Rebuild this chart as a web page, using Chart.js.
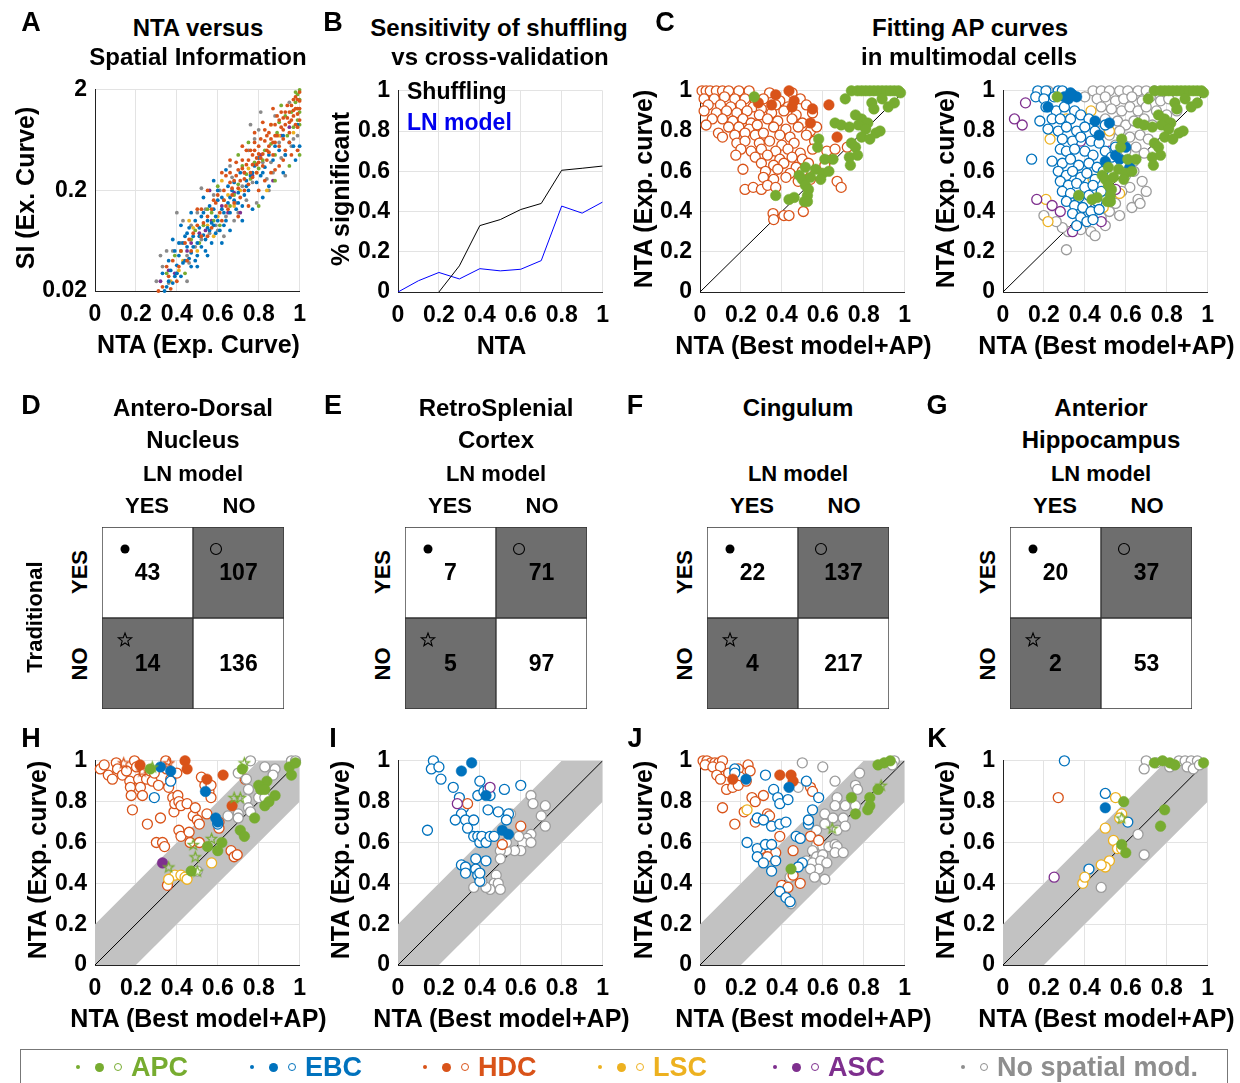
<!DOCTYPE html>
<html>
<head>
<meta charset="utf-8">
<script src="https://cdn.jsdelivr.net/npm/chart.js@4.4.1/dist/chart.umd.min.js"></script>
<style>
  body { margin: 0; width: 1240px; height: 1083px; position: relative; overflow: hidden; background: #fff;
         font-family: "Liberation Sans", Arial, Helvetica, sans-serif; font-weight: bold; color: #000; }
  canvas { position: absolute; }
  .t { position: absolute; white-space: nowrap; line-height: 1; }
  #legend { position: absolute; left: 20px; top: 1049px; width: 1206px; height: 40px; border: 1px solid #777; }
  .sym { position: absolute; border-radius: 50%; box-sizing: border-box; }
</style>
</head>
<body>
<div id="legend"></div>
<script>
// ---- Axis ticks ----
const NTA_TICKS = [0, 0.2, 0.4, 0.6, 0.8, 1];
const NTA_LABELS = ['0', '0.2', '0.4', '0.6', '0.8', '1'];
const SI_TICKS = [0.02, 0.2, 2];
const SI_LABELS = ['0.02', '0.2', '2'];

// ---- A: NTA vs spatial information (all cells) ----
const aHdc = [[0.33,0.022],[0.36,0.028],[0.38,0.04],[0.41,0.035],[0.44,0.06],[0.47,0.05],[0.5,0.09],[0.52,0.07],[0.55,0.11],[0.57,0.085],[0.59,0.15],[0.61,0.12],[0.63,0.2],[0.64,0.14],[0.66,0.24],[0.67,0.18],[0.69,0.28],[0.7,0.21],[0.72,0.33],[0.73,0.26],[0.75,0.4],[0.76,0.3],[0.77,0.45],[0.79,0.36],[0.8,0.55],[0.81,0.42],[0.83,0.62],[0.84,0.5],[0.85,0.75],[0.87,0.6],[0.88,0.9],[0.89,0.7],[0.9,1.0],[0.92,0.8],[0.93,1.2],[0.95,0.95],[0.96,1.4],[0.97,1.1],[0.98,1.7],[0.99,1.3],[1.0,1.55],[0.94,1.05],[0.86,0.65],[0.78,0.5],[0.82,0.46],[0.91,0.85],[0.74,0.36],[0.68,0.25],[0.97,1.25],[0.99,1.6],
    [0.6,0.18],[0.62,0.1],[0.65,0.13],[0.66,0.3],[0.68,0.15],[0.7,0.32],[0.71,0.17],[0.72,0.4],[0.73,0.2],[0.75,0.23],[0.76,0.5],[0.77,0.27],[0.78,0.6],[0.79,0.3],[0.8,0.38],[0.81,0.65],[0.82,0.35],[0.83,0.8],[0.84,0.4],[0.85,0.55],[0.86,0.9],[0.87,0.45],[0.88,0.7],[0.89,1.1],[0.9,0.55],[0.91,1.2],[0.92,0.65],[0.93,0.9],[0.94,1.4],[0.95,0.75],[0.96,1.0],[0.97,1.6],[0.98,0.9],[0.99,1.15],[1.0,1.9],[1.0,1.0],[0.55,0.07],[0.58,0.16],[0.48,0.075],[0.45,0.04],[0.42,0.05],[0.4,0.025],[0.35,0.035],[0.52,0.13],[0.64,0.28],[0.74,0.5],[0.69,0.38],
    [0.31,0.02],[0.37,0.021],[0.46,0.065],[0.53,0.095],[0.57,0.13],[0.63,0.16],[0.67,0.21],[0.71,0.25],[0.77,0.36],[0.8,0.46],[0.84,0.7],[0.88,0.6],[0.92,1.05],[0.95,1.2],[0.98,1.3],[1.0,1.3],[0.99,0.85],[0.85,0.48],[0.79,0.42],[0.73,0.3],
    [0.7,0.11],[0.75,0.14],[0.8,0.2],[0.83,0.25],[0.86,0.3],[0.9,0.35],[0.93,0.5],[0.96,0.45],[0.99,0.5],[0.62,0.3],[0.66,0.4],[0.72,0.55],[0.78,0.75],[0.82,0.95],[0.87,1.3],[0.55,0.2],[0.5,0.13],[0.88,0.32],[0.92,0.4],[0.95,0.6]];
const aEbc = [[0.34,0.02],[0.37,0.032],[0.39,0.028],[0.41,0.045],[0.43,0.038],[0.45,0.055],[0.46,0.042],[0.48,0.07],[0.5,0.06],[0.51,0.085],[0.53,0.072],[0.55,0.1],[0.56,0.08],[0.58,0.13],[0.6,0.1],[0.62,0.17],[0.63,0.12],[0.65,0.15],[0.67,0.2],[0.68,0.16],[0.7,0.19],[0.72,0.14],[0.74,0.25],[0.76,0.28],[0.78,0.35],[0.82,0.3],[0.85,0.45],[0.88,0.55],[0.92,0.7],[0.95,0.6],[0.99,0.9],[0.44,0.07],[0.52,0.11],[0.6,0.16],[0.4,0.03],[0.36,0.025],[0.47,0.048],[0.57,0.095],
    [0.33,0.03],[0.35,0.022],[0.36,0.04],[0.38,0.024],[0.39,0.05],[0.4,0.036],[0.42,0.028],[0.43,0.06],[0.44,0.04],[0.45,0.075],[0.47,0.035],[0.48,0.055],[0.49,0.1],[0.5,0.045],[0.51,0.07],[0.52,0.055],[0.53,0.12],[0.54,0.065],[0.55,0.085],[0.56,0.14],[0.57,0.06],[0.58,0.09],[0.59,0.11],[0.6,0.2],[0.61,0.08],[0.62,0.13],[0.64,0.1],[0.65,0.22],[0.66,0.12],[0.68,0.24],[0.69,0.13],[0.71,0.3],[0.73,0.18],[0.75,0.2],[0.77,0.3],[0.79,0.24],[0.8,0.42],[0.83,0.34],[0.87,0.4],[0.9,0.5],[0.97,0.55],
    [0.41,0.06],[0.46,0.085],[0.49,0.04],[0.54,0.05],[0.59,0.075],[0.63,0.09],[0.66,0.17],[0.7,0.15],[0.74,0.22],[0.81,0.28],[0.93,0.45],[1.0,0.55],
    [0.62,0.06],[0.66,0.08],[0.72,0.1],[0.77,0.13],[0.82,0.17],[0.85,0.22],[0.92,0.3],[0.98,0.4],[0.42,0.09],[0.47,0.12],[0.53,0.17],[0.58,0.25],[0.64,0.32],[0.38,0.065],[0.55,0.045],[0.5,0.035]];
const aApc = [[0.35,0.03],[0.42,0.05],[0.47,0.065],[0.53,0.09],[0.58,0.1],[0.63,0.16],[0.66,0.14],[0.7,0.23],[0.74,0.29],[0.78,0.38],[0.8,0.33],[0.83,0.5],[0.86,0.58],[0.9,0.95],[0.93,1.1],[0.96,1.2],[0.98,1.5],[0.99,1.8],[1.0,2.0],[1.0,1.2],[0.99,1.0],[0.97,0.85],[0.88,0.45],[0.57,0.12],[0.49,0.08],
    [0.39,0.045],[0.44,0.03],[0.51,0.06],[0.55,0.13],[0.61,0.09],[0.68,0.18],[0.72,0.35],[0.76,0.26],[0.82,0.4],[0.89,0.75],[0.94,0.7],[1.0,1.6],[1.0,0.9],[0.98,1.9],[0.91,1.4],
    [0.8,0.14],[0.88,0.25],[0.95,0.35],[1.0,0.45],[0.6,0.22],[0.7,0.45],[0.75,0.6]];
const aNone = [[0.3,0.025],[0.33,0.035],[0.36,0.024],[0.38,0.05],[0.4,0.03],[0.42,0.06],[0.45,0.045],[0.47,0.09],[0.49,0.055],[0.52,0.065],[0.54,0.13],[0.56,0.075],[0.59,0.09],[0.61,0.2],[0.64,0.11],[0.67,0.27],[0.69,0.15],[0.72,0.22],[0.75,0.5],[0.77,0.24],[0.8,0.8],[0.82,0.38],[0.84,0.26],[0.87,0.3],[0.9,0.6],[0.93,0.45],[0.95,1.5],[0.97,0.65],[0.88,1.1],[0.6,0.08],
    [0.32,0.045],[0.35,0.05],[0.43,0.1],[0.46,0.038],[0.5,0.12],[0.58,0.18],[0.63,0.07],[0.7,0.12],[0.74,0.16],[0.78,0.65],[0.86,0.38],[0.91,0.42],[0.96,0.55],[0.99,0.7],[0.66,0.35],
    [0.81,1.2],[0.76,0.9],[0.68,0.1],[0.79,0.15],[0.85,0.2],[0.4,0.12],[0.52,0.21],[0.93,0.28],[0.45,0.025]];
const aLsc = [[0.37,0.025],[0.43,0.04],[0.5,0.05],[0.55,0.09],[0.6,0.11],[0.65,0.18],[0.71,0.2],[0.79,0.3],[0.86,0.9],[0.97,0.75],[0.41,0.032],[0.48,0.085],[0.58,0.07],[0.68,0.14],[0.75,0.33],[0.9,0.7],[0.84,0.2],[0.62,0.25],[0.46,0.1]];
const aAsc = [[0.32,0.025],[0.39,0.03],[0.45,0.05],[0.51,0.075],[0.57,0.1],[0.62,0.14],[0.68,0.19],[0.73,0.3],[0.81,0.45],[0.91,0.7],[0.36,0.032],[0.47,0.06],[0.54,0.08],[0.65,0.12],[0.77,0.28],[0.95,0.85],[0.87,0.25],[0.56,0.2],[0.71,0.12]];

// ---- B: sensitivity ----
const nta_bins = [0, 0.1, 0.2, 0.3, 0.4, 0.5, 0.6, 0.7, 0.8, 0.9, 1];
const shuffling = [null, null, 0, 0.13, 0.33, 0.36, 0.41, 0.44, 0.605, 0.615, 0.626];
const lnModel = [0, 0.056, 0.097, 0.065, 0.116, 0.105, 0.113, 0.156, 0.427, 0.392, 0.447];

// ---- C: multimodal cells ----
const cApc = [[0.265,0.97],[0.74,1],[0.77,1],[0.79,1],[0.81,1],[0.83,1],[0.85,1],[0.87,1],[0.89,1],[0.91,1],[0.93,1],[0.95,1],[0.97,1],[0.98,0.99],[0.71,0.96],[0.84,0.94],[0.89,0.96],[0.92,0.92],[0.95,0.94],[0.85,0.91],[0.79,0.86],[0.82,0.84],[0.76,0.88],[0.66,0.84],[0.69,0.83],[0.73,0.82],[0.775,0.83],[0.81,0.81],[0.86,0.79],[0.88,0.8],[0.58,0.76],[0.79,0.77],[0.83,0.76],[0.74,0.74],[0.76,0.72],[0.575,0.72],[0.61,0.66],[0.65,0.66],[0.73,0.67],[0.735,0.63],[0.77,0.68],[0.515,0.62],[0.565,0.61],[0.6,0.59],[0.63,0.6],[0.485,0.58],[0.5,0.56],[0.515,0.53],[0.53,0.51],[0.525,0.48],[0.51,0.45],[0.525,0.45],[0.435,0.46],[0.46,0.47],[0.37,0.48],[0.59,0.56],[0.54,0.57]];
const cHdcOpen = [[0.01,1],[0.03,1],[0.05,1],[0.08,1],[0.11,1],[0.14,1],[0.19,1],[0.24,1],[0.34,0.99],[0.45,0.99],[0.02,0.96],[0.07,0.96],[0.12,0.97],[0.17,0.96],[0.22,0.96],[0.27,0.95],[0.31,0.96],[0.39,0.95],[0.49,0.96],[0.04,0.93],[0.1,0.93],[0.15,0.92],[0.2,0.93],[0.26,0.92],[0.3,0.91],[0.37,0.93],[0.43,0.92],[0.52,0.93],[0.02,0.9],[0.08,0.89],[0.13,0.9],[0.18,0.89],[0.23,0.9],[0.29,0.88],[0.35,0.89],[0.41,0.9],[0.47,0.88],[0.55,0.89],[0.06,0.86],[0.11,0.86],[0.16,0.85],[0.21,0.86],[0.25,0.84],[0.33,0.86],[0.38,0.85],[0.45,0.86],[0.5,0.84],[0.03,0.83],[0.14,0.82],[0.19,0.82],[0.24,0.81],[0.28,0.83],[0.36,0.82],[0.42,0.81],[0.48,0.82],[0.54,0.8],[0.57,0.82],[0.09,0.79],[0.17,0.78],[0.22,0.79],[0.27,0.78],[0.31,0.79],[0.39,0.78],[0.44,0.77],[0.52,0.78],[0.11,0.77],[0.18,0.74],[0.22,0.75],[0.29,0.74],[0.34,0.75],[0.4,0.73],[0.46,0.74],[0.56,0.75],[0.2,0.71],[0.25,0.7],[0.3,0.71],[0.37,0.7],[0.43,0.71],[0.49,0.69],[0.55,0.71],[0.62,0.7],[0.66,0.71],[0.72,0.72],[0.175,0.68],[0.27,0.67],[0.33,0.68],[0.39,0.66],[0.45,0.67],[0.5,0.66],[0.3,0.64],[0.36,0.63],[0.41,0.64],[0.47,0.62],[0.53,0.64],[0.61,0.63],[0.21,0.61],[0.32,0.6],[0.38,0.61],[0.44,0.59],[0.5,0.6],[0.56,0.58],[0.31,0.57],[0.36,0.56],[0.42,0.57],[0.48,0.55],[0.54,0.56],[0.67,0.55],[0.69,0.52],[0.22,0.51],[0.26,0.52],[0.3,0.51],[0.33,0.53],[0.37,0.52],[0.505,0.4],[0.357,0.39],[0.36,0.36],[0.41,0.38],[0.435,0.38]];
const cHdcFill = [[0.37,0.98],[0.435,1.0],[0.35,0.93],[0.45,0.92],[0.55,0.91],[0.63,0.93],[0.67,0.77],[0.285,0.94],[0.46,0.95],[0.54,0.84]];
const cEbcOpen = [[0.17,1.0],[0.21,1.0],[0.27,1.0],[0.29,1.0],[0.16,0.97],[0.2,0.96],[0.25,0.97],[0.21,0.92],[0.26,0.9],[0.3,0.92],[0.35,0.9],[0.24,0.86],[0.18,0.85],[0.28,0.86],[0.33,0.86],[0.38,0.88],[0.42,0.86],[0.22,0.81],[0.27,0.8],[0.31,0.82],[0.36,0.8],[0.4,0.82],[0.45,0.8],[0.5,0.83],[0.29,0.76],[0.34,0.75],[0.38,0.77],[0.43,0.75],[0.47,0.74],[0.55,0.72],[0.28,0.71],[0.31,0.7],[0.35,0.71],[0.4,0.7],[0.44,0.68],[0.5,0.7],[0.53,0.67],[0.14,0.66],[0.24,0.65],[0.29,0.64],[0.33,0.66],[0.37,0.63],[0.42,0.64],[0.46,0.62],[0.49,0.6],[0.27,0.6],[0.31,0.58],[0.34,0.6],[0.38,0.57],[0.41,0.59],[0.45,0.56],[0.28,0.55],[0.32,0.53],[0.36,0.54],[0.4,0.52],[0.44,0.53],[0.48,0.5],[0.29,0.5],[0.33,0.49],[0.37,0.47],[0.42,0.48],[0.46,0.45],[0.31,0.45],[0.35,0.43],[0.39,0.42],[0.43,0.4],[0.47,0.41],[0.34,0.39],[0.38,0.37],[0.41,0.35],[0.36,0.33],[0.44,0.36]];
const cEbcFill = [[0.3,0.97],[0.32,0.96],[0.34,0.98],[0.36,0.97],[0.33,0.99],[0.22,0.92],[0.45,0.85],[0.52,0.84],[0.47,0.78],[0.6,0.72],[0.5,0.65],[0.55,0.68],[0.62,0.62],[0.57,0.66]];
const cNoneOpen = [[0.22,1.0],[0.44,1],[0.48,1],[0.52,1],[0.57,1],[0.61,1],[0.66,1],[0.7,1],[0.74,1],[0.4,0.97],[0.46,0.96],[0.5,0.97],[0.55,0.95],[0.59,0.96],[0.63,0.97],[0.68,0.95],[0.72,0.97],[0.77,0.95],[0.81,0.96],[0.48,0.92],[0.53,0.91],[0.58,0.9],[0.62,0.92],[0.66,0.9],[0.7,0.92],[0.75,0.9],[0.8,0.88],[0.85,0.9],[0.5,0.86],[0.56,0.85],[0.6,0.83],[0.64,0.85],[0.69,0.86],[0.73,0.83],[0.47,0.8],[0.52,0.78],[0.57,0.8],[0.62,0.77],[0.67,0.78],[0.71,0.76],[0.55,0.73],[0.6,0.7],[0.65,0.72],[0.69,0.69],[0.64,0.65],[0.58,0.64],[0.6,0.58],[0.64,0.6],[0.68,0.55],[0.7,0.5],[0.62,0.52],[0.66,0.46],[0.58,0.5],[0.55,0.44],[0.63,0.42],[0.67,0.44],[0.52,0.4],[0.48,0.37],[0.43,0.3],[0.45,0.28],[0.38,0.31],[0.32,0.3],[0.29,0.32],[0.26,0.35],[0.2,0.38],[0.31,0.21],[0.57,0.38],[0.5,0.33]];
const cLscOpen = [[0.23,0.76],[0.21,0.46],[0.22,0.35],[0.31,0.86],[0.43,0.9],[0.57,0.49],[0.49,0.42],[0.35,0.4],[0.52,0.8],[0.44,0.56]];
const cAscOpen = [[0.11,0.94],[0.056,0.86],[0.094,0.83],[0.165,0.46],[0.24,0.43],[0.28,0.4],[0.34,0.3],[0.48,0.35],[0.55,0.51],[0.38,0.75],[0.52,0.7]];

// ---- D-G: traditional vs LN model counts [yes/yes, yes/no, no/yes, no/no] ----
const LN_COLS = ['YES', 'NO'];
const TRAD_ROWS = ['YES', 'NO'];
const adnCounts = [43, 107, 14, 136];
const rscCounts = [7, 71, 5, 97];
const cinCounts = [22, 137, 4, 217];
const ahcCounts = [20, 37, 2, 53];

// ---- H: ADN ----
const hHdcOpen = [[0.026,0.96],[0.045,0.98],[0.065,0.93],[0.085,0.91],[0.104,0.99],[0.11,0.96],[0.134,0.93],[0.154,0.95],[0.17,0.9],[0.173,0.87],[0.177,0.83],[0.183,0.76],[0.193,1.0],[0.203,0.97],[0.213,0.91],[0.222,0.87],[0.232,0.83],[0.242,0.94],[0.252,0.91],[0.256,0.69],[0.27,0.95],[0.28,0.9],[0.29,0.94],[0.3,0.6],[0.31,0.88],[0.32,0.72],[0.33,0.6],[0.34,0.58],[0.346,1.0],[0.35,0.96],[0.36,0.87],[0.37,0.91],[0.38,0.82],[0.386,0.75],[0.39,0.79],[0.4,0.94],[0.405,0.83],[0.41,0.8],[0.42,0.78],[0.41,0.66],[0.42,0.63],[0.45,0.79],[0.46,0.65],[0.465,0.6],[0.48,0.73],[0.49,0.77],[0.5,0.71],[0.51,0.69],[0.51,0.6],[0.52,0.92],[0.537,0.88],[0.547,0.74],[0.557,0.85],[0.567,0.88],[0.567,0.82],[0.606,0.7],[0.606,0.67],[0.665,0.56],[0.68,0.53],[0.695,0.54],[0.734,0.91],[0.354,0.39]];
const hHdcFill = [[0.22,0.98],[0.44,1.0],[0.45,0.96],[0.547,0.91],[0.626,0.93],[0.67,0.78]];
const hHdcStar = [[0.14,0.99],[0.36,0.99],[0.23,0.95]];
const hEbcOpen = [[0.29,0.82],[0.37,0.9],[0.6,0.69]];
const hEbcFill = [[0.32,0.97],[0.37,0.95],[0.54,0.85],[0.59,0.72],[0.6,0.7]];
const hAscFill = [[0.33,0.5]];
const hApcFill = [[0.27,0.96],[0.72,0.96],[0.84,0.9],[0.8,0.88],[0.81,0.86],[0.83,0.86],[0.88,0.83],[0.78,0.72],[0.83,0.78],[0.85,0.8],[0.71,0.66],[0.73,0.63],[0.62,0.6],[0.6,0.56],[0.47,0.46],[0.95,0.97],[0.96,0.93],[0.98,0.99],[0.55,0.58]];
const hApcStar = [[0.73,0.99],[0.28,0.97],[0.71,0.82],[0.68,0.82],[0.57,0.62],[0.48,0.59],[0.49,0.53],[0.36,0.48],[0.5,0.46]];
const hNoneOpen = [[0.76,1.0],[0.7,0.94],[0.74,0.91],[0.83,0.97],[0.88,0.96],[0.96,1.0],[0.98,1.0],[0.8,0.82],[0.75,0.86],[0.74,0.81],[0.7,0.74],[0.7,0.72],[0.75,0.77],[0.76,0.75],[0.83,0.82],[0.87,0.93],[0.5,0.46],[0.65,0.73]];
const hLscOpen = [[0.39,0.44],[0.42,0.44],[0.44,0.43],[0.45,0.42],[0.57,0.5],[0.36,0.42]];

// ---- I: RSC ----
const iEbcOpen = [[0.173,1.0],[0.163,0.96],[0.2,0.97],[0.21,0.91],[0.144,0.66],[0.27,0.87],[0.3,0.82],[0.32,0.77],[0.31,0.74],[0.28,0.71],[0.33,0.71],[0.34,0.67],[0.37,0.71],[0.37,0.63],[0.39,0.63],[0.4,0.6],[0.41,0.63],[0.43,0.6],[0.45,0.63],[0.47,0.63],[0.4,0.9],[0.39,0.83],[0.42,0.85],[0.44,0.76],[0.44,0.86],[0.45,0.83],[0.49,0.75],[0.52,0.86],[0.54,0.74],[0.53,0.71],[0.6,0.88],[0.31,0.49],[0.33,0.48],[0.33,0.45],[0.38,0.52],[0.38,0.47],[0.39,0.44],[0.4,0.41],[0.43,0.51],[0.4,0.45]];
const iEbcFill = [[0.31,0.95],[0.36,0.99],[0.43,0.83],[0.51,0.66],[0.54,0.64]];
const iNoneOpen = [[0.65,0.83],[0.66,0.79],[0.72,0.78],[0.7,0.73],[0.72,0.68],[0.65,0.64],[0.63,0.62],[0.61,0.6],[0.65,0.6],[0.6,0.56],[0.57,0.56],[0.53,0.56],[0.5,0.56],[0.5,0.52],[0.53,0.6],[0.55,0.74],[0.59,0.63],[0.48,0.44],[0.47,0.4],[0.49,0.4],[0.5,0.37],[0.45,0.37],[0.43,0.38],[0.37,0.38],[0.41,0.41]];
const iHdcOpen = [[0.34,0.79],[0.51,0.59],[0.6,0.68]];
const iAscOpen = [[0.29,0.79],[0.45,0.87]];

// ---- J: cingulum ----
const jHdcOpen = [[0.015,1.0],[0.034,1.0],[0.054,0.99],[0.073,0.99],[0.092,0.99],[0.11,1.0],[0.025,0.98],[0.063,0.97],[0.1,0.97],[0.082,0.93],[0.1,0.91],[0.14,0.94],[0.13,0.86],[0.16,0.87],[0.187,0.96],[0.197,0.92],[0.187,0.88],[0.235,0.98],[0.245,0.95],[0.226,0.9],[0.254,0.82],[0.27,0.8],[0.31,0.83],[0.11,0.77],[0.17,0.69],[0.216,0.75],[0.27,0.7],[0.33,0.74],[0.34,0.73],[0.39,0.63],[0.3,0.57],[0.34,0.57],[0.37,0.55],[0.33,0.53],[0.455,0.56],[0.54,0.63],[0.58,0.61],[0.54,0.87],[0.55,0.85],[0.4,0.39],[0.43,0.38],[0.49,0.4],[0.455,0.44]];
const jHdcFill = [[0.16,0.91],[0.39,0.93],[0.445,0.93],[0.455,0.9]];
const jEbcOpen = [[0.17,0.96],[0.17,0.94],[0.32,0.93],[0.36,0.86],[0.38,0.82],[0.39,0.79],[0.43,0.81],[0.28,0.72],[0.31,0.71],[0.35,0.68],[0.39,0.69],[0.42,0.7],[0.23,0.6],[0.28,0.57],[0.32,0.59],[0.35,0.59],[0.28,0.53],[0.31,0.5],[0.35,0.46],[0.37,0.51],[0.47,0.63],[0.49,0.62],[0.52,0.9],[0.55,0.76],[0.58,0.82],[0.5,0.5],[0.39,0.36],[0.42,0.33],[0.44,0.31],[0.48,0.48],[0.53,0.69],[0.53,0.71]];
const jEbcFill = [[0.225,0.91],[0.435,0.87]];
const jNoneOpen = [[0.5,0.99],[0.6,0.97],[0.66,0.9],[0.48,0.87],[0.78,0.94],[0.76,0.88],[0.77,0.86],[0.67,0.82],[0.66,0.78],[0.71,0.78],[0.76,0.78],[0.61,0.74],[0.65,0.72],[0.7,0.72],[0.61,0.69],[0.67,0.66],[0.71,0.68],[0.57,0.66],[0.57,0.59],[0.6,0.58],[0.63,0.58],[0.66,0.59],[0.67,0.58],[0.55,0.56],[0.57,0.53],[0.6,0.54],[0.66,0.55],[0.52,0.51],[0.55,0.5],[0.59,0.51],[0.62,0.5],[0.58,0.47],[0.54,0.47],[0.56,0.43],[0.61,0.42],[0.44,0.43],[0.445,0.3],[0.7,0.55],[0.95,1.0],[0.94,0.98]];
const jApcFill = [[0.87,0.98],[0.9,0.99],[0.93,1.0],[0.87,0.86],[0.74,0.82],[0.83,0.82],[0.83,0.78],[0.82,0.76],[0.76,0.74],[0.445,0.47]];
const jApcStar = [[0.885,0.88],[0.646,0.67]];
const jLscOpen = [[0.23,0.76]];

// ---- K: anterior hippocampus ----
const kEbcOpen = [[0.3,1.0],[0.5,0.84],[0.61,0.7],[0.42,0.47]];
const kEbcFill = [[0.5,0.77]];
const kHdcOpen = [[0.27,0.82]];
const kAscOpen = [[0.25,0.43]];
const kLscOpen = [[0.55,0.82],[0.58,0.74],[0.57,0.72],[0.5,0.67],[0.54,0.61],[0.56,0.57],[0.58,0.57],[0.52,0.51],[0.5,0.48],[0.48,0.49],[0.39,0.4],[0.4,0.43]];
const kApcFill = [[0.59,0.8],[0.6,0.55],[0.58,0.59],[0.79,0.76],[0.77,0.68],[0.74,0.99],[0.78,1.0],[0.815,0.99],[0.84,0.98],[0.98,0.99]];
const kApcStar = [[0.58,0.72]];
const kNoneOpen = [[0.7,1.0],[0.69,0.96],[0.75,0.99],[0.815,0.97],[0.86,1.0],[0.89,1.0],[0.92,1.0],[0.95,1.0],[0.9,0.97],[0.93,0.96],[0.96,0.98],[0.66,0.64],[0.69,0.54],[0.48,0.38]];

// ---- Style ----
const FONT = '"Liberation Sans", Arial, Helvetica, sans-serif';
const APC = '#77AC30', EBC = '#0072BD', HDC = '#D95319', LSC = '#EDB120', ASC = '#7E2F8E', NONE = '#9C9C9C';
const GRID = '#e3e3e3', AXIS = '#222', BAND = '#c2c2c2';
const CELL_AGREE = '#ffffff', CELL_DIFF = '#6e6e6e';
const TICK_SIZE = 23, LABEL_SIZE = 25, TITLE_SIZE = 24;
const BAND_MARGIN = 0.2;
const PW = 207, PAD_L = 95, PAD_T = 16, PAD_R = 14, PAD_B = 75;

Chart.defaults.font.family = FONT;
Chart.defaults.font.weight = 'bold';
Chart.defaults.color = '#000';

const xy = arr => arr.map(([x, y]) => ({ x, y }));

function starPath(g, cx, cy, r) {
    g.beginPath();
    for (let i = 0; i < 10; i++) {
        const rr = i % 2 ? r * 0.42 : r;
        const a = -Math.PI / 2 + i * Math.PI / 5;
        g.lineTo(cx + rr * Math.cos(a), cy + rr * Math.sin(a));
    }
    g.closePath();
}

function starImage(color, r) {
    const c = document.createElement('canvas');
    c.width = c.height = Math.ceil(r * 2 + 4);
    const g = c.getContext('2d');
    starPath(g, c.width / 2, c.height / 2 + 0.5, r);
    g.strokeStyle = color;
    g.lineWidth = 1.2;
    g.stroke();
    return c;
}

// series helpers
const tiny = (arr, color) => ({ data: xy(arr), pointRadius: 1.9, pointBackgroundColor: color, pointBorderWidth: 0, clip: false });
const filled = (arr, color) => ({ data: xy(arr), pointRadius: 5.3, pointBackgroundColor: color, pointBorderColor: color, pointBorderWidth: 0.5, clip: false });
const open = (arr, color) => ({ data: xy(arr), pointRadius: 5, pointBackgroundColor: '#fff', pointBorderColor: color, pointBorderWidth: 1.3, clip: false });
const star = (arr, color) => ({ data: xy(arr), pointStyle: starImage(color, 5.5), pointRadius: 6, clip: false });

function stacked(list) {
    // later entries drawn on top
    list.forEach((ds, i) => { ds.order = -i; });
    return list;
}

function refLines(withBand) {
    const out = [];
    if (withBand) {
        out.push({ data: xy([[0, BAND_MARGIN], [1 - BAND_MARGIN, 1], [1, 1]]), showLine: true, pointRadius: 0,
                   borderColor: 'rgba(0,0,0,0)', backgroundColor: BAND, fill: '+1', order: 1000 });
        out.push({ data: xy([[0, 0], [BAND_MARGIN, 0], [1, 1 - BAND_MARGIN]]), showLine: true, pointRadius: 0,
                   borderColor: 'rgba(0,0,0,0)', fill: false, order: 999 });
    }
    out.push({ data: xy([[0, 0], [1, 1]]), showLine: true, pointRadius: 0, borderColor: '#000', borderWidth: 1, order: 998 });
    return out;
}

function axisX() {
    return {
        type: 'linear', min: 0, max: 1,
        afterBuildTicks: s => { s.ticks = NTA_TICKS.map(v => ({ value: v })); },
        afterFit: s => { s.height = PAD_B; },
        grid: { color: GRID, drawTicks: false },
        border: { color: AXIS },
        ticks: { font: { size: TICK_SIZE }, padding: 10, maxRotation: 0, autoSkip: false, callback: (v, i) => NTA_LABELS[i] }
    };
}

function axisY(extra) {
    return Object.assign({
        type: 'linear', min: 0, max: 1,
        afterBuildTicks: s => { s.ticks = NTA_TICKS.map(v => ({ value: v })); },
        afterFit: s => { s.width = PAD_L; },
        grid: { color: GRID, drawTicks: false },
        border: { color: AXIS },
        ticks: { font: { size: TICK_SIZE }, padding: 8, autoSkip: false, callback: (v, i) => NTA_LABELS[i] }
    }, extra || {});
}

// scatter/line panel; axis titles are placed as page text beside the plot box
function panel(left, top, h, datasets, titles, yScale) {
    const cv = document.createElement('canvas');
    cv.width = PAD_L + PW + PAD_R;
    cv.height = PAD_T + h + PAD_B;
    cv.style.left = (left - PAD_L) + 'px';
    cv.style.top = (top - PAD_T) + 'px';
    document.body.appendChild(cv);
    txt(titles.x, left + PW / 2, top + h + 53, LABEL_SIZE);
    vtxt(titles.y, left - (titles.yDist || 58), top + h / 2, LABEL_SIZE);
    return new Chart(cv, {
        type: 'scatter',
        data: { datasets },
        options: {
            responsive: false, animation: false, events: [],
            layout: { padding: { left: 0, top: PAD_T, right: PAD_R, bottom: 0 } },
            plugins: { legend: { display: false }, tooltip: { enabled: false } },
            scales: { x: axisX(), y: yScale || axisY() }
        }
    });
}

// table cells: counts + marker glyphs
const CELL_MARKS = ['dot', 'circle', 'star', null];
const cellMarks = {
    id: 'cellMarks',
    afterDatasetsDraw(chart, args, opts) {
        const ctx = chart.ctx;
        ctx.save();
        chart.data.datasets.forEach((ds, row) => {
            chart.getDatasetMeta(row).data.forEach((bar, col) => {
                const k = row * LN_COLS.length + col;
                const left = bar.x - bar.width / 2;
                const top = Math.min(bar.y, bar.base);
                ctx.fillStyle = '#000';
                ctx.font = 'bold 23px ' + FONT;
                ctx.textAlign = 'center';
                ctx.textBaseline = 'middle';
                ctx.fillText(String(opts.counts[k]), bar.x, (bar.y + bar.base) / 2 + 1);
                const mx = left + 23, my = top + 22;
                ctx.lineWidth = 1.1;
                ctx.strokeStyle = '#000';
                if (CELL_MARKS[k] === 'dot') {
                    ctx.beginPath(); ctx.arc(mx, my, 4.5, 0, 2 * Math.PI); ctx.fill();
                } else if (CELL_MARKS[k] === 'circle') {
                    ctx.beginPath(); ctx.arc(mx, my, 5.5, 0, 2 * Math.PI); ctx.stroke();
                } else if (CELL_MARKS[k] === 'star') {
                    starPath(ctx, mx, my, 7); ctx.stroke();
                }
            });
        });
        ctx.restore();
    }
};

function table(left, top, counts) {
    const cv = document.createElement('canvas');
    cv.width = 182; cv.height = 182;
    cv.style.left = left + 'px'; cv.style.top = top + 'px';
    document.body.appendChild(cv);
    const rowSets = TRAD_ROWS.map((r, i) => ({
        label: r,
        data: LN_COLS.map(() => [TRAD_ROWS.length - 1 - i, TRAD_ROWS.length - i]),
        backgroundColor: LN_COLS.map((c, j) => (i === j ? CELL_AGREE : CELL_DIFF)),
        borderColor: '#333', borderWidth: 1, borderSkipped: false,
        grouped: false, barPercentage: 1, categoryPercentage: 1
    }));
    return new Chart(cv, {
        type: 'bar',
        data: { labels: LN_COLS, datasets: rowSets },
        options: {
            responsive: false, animation: false, events: [],
            layout: { padding: 0 },
            plugins: { legend: { display: false }, tooltip: { enabled: false }, cellMarks: { counts } },
            scales: { x: { display: false }, y: { display: false, min: 0, max: TRAD_ROWS.length } }
        },
        plugins: [cellMarks]
    });
}

// plain text labels
function txt(s, x, y, size, opt) {
    opt = opt || {};
    const d = document.createElement('div');
    d.className = 't';
    d.textContent = s;
    d.style.fontSize = size + 'px';
    d.style.left = x + 'px';
    d.style.top = y + 'px';
    if (opt.color) d.style.color = opt.color;
    d.style.transform = `translate(${opt.align === 'left' ? '0' : '-50%'}, -50%)`;
    document.body.appendChild(d);
    return d;
}
function vtxt(s, x, y, size) {
    const d = document.createElement('div');
    d.className = 't';
    d.textContent = s;
    d.style.fontSize = size + 'px';
    d.style.left = x + 'px';
    d.style.top = y + 'px';
    d.style.transform = 'translate(-50%, -50%) rotate(-90deg)';
    document.body.appendChild(d);
}

// ---------- Row 1 ----------
panel(95, 84, 207, stacked([
    tiny(aNone, '#8a8a8a'), tiny(aAsc, ASC), tiny(aLsc, LSC), tiny(aApc, APC), tiny(aEbc, EBC), tiny(aHdc, HDC)
]), { x: 'NTA (Exp. Curve)', y: 'SI (Ex. Curve)', yDist: 70 }, axisY({
    type: 'logarithmic', min: 0.02, max: 2,
    afterBuildTicks: s => { s.ticks = SI_TICKS.map(v => ({ value: v })); },
    ticks: { font: { size: TICK_SIZE }, padding: 8, autoSkip: false, callback: (v, i) => SI_LABELS[i] }
}));

panel(398, 85, 207, [
    { data: nta_bins.map((x, i) => ({ x, y: shuffling[i] })), showLine: true, pointRadius: 0, borderColor: '#000', borderWidth: 1, spanGaps: false },
    { data: nta_bins.map((x, i) => ({ x, y: lnModel[i] })), showLine: true, pointRadius: 0, borderColor: '#0000ff', borderWidth: 1 }
], { x: 'NTA', y: '% significant' });

panel(700, 85, 207, refLines(false).concat(stacked([
    open(cHdcOpen, HDC), filled(cHdcFill, HDC), filled(cApc, APC)
])), { x: 'NTA (Best model+AP)', y: 'NTA (Exp. curve)', yDist: 57 });

panel(1003, 85, 207, refLines(false).concat(stacked([
    open(cNoneOpen, NONE), open(cLscOpen, LSC), open(cAscOpen, ASC), open(cEbcOpen, EBC), filled(cEbcFill, EBC), filled(cApc, APC)
])), { x: 'NTA (Best model+AP)', y: 'NTA (Exp. curve)' });

txt('A', 31, 22, 27); txt('B', 333, 22, 27); txt('C', 665, 22, 27);
txt('NTA versus', 198, 28, TITLE_SIZE); txt('Spatial Information', 198, 57, TITLE_SIZE);
txt('Sensitivity of shuffling', 499, 28, TITLE_SIZE); txt('vs cross-validation', 500, 57, TITLE_SIZE);
txt('Fitting AP curves', 970, 28, TITLE_SIZE); txt('in multimodal cells', 969, 57, TITLE_SIZE);
txt('Shuffling', 407, 91, 23, { align: 'left' });
txt('LN model', 407, 122, 23, { align: 'left', color: '#0000ee' });

// ---------- Row 2 ----------
const TABLES = [
    { letter: 'D', lx: 31, left: 102, title: ['Antero-Dorsal', 'Nucleus'], counts: adnCounts },
    { letter: 'E', lx: 333, left: 405, title: ['RetroSplenial', 'Cortex'], counts: rscCounts },
    { letter: 'F', lx: 635, left: 707, title: ['Cingulum'], counts: cinCounts },
    { letter: 'G', lx: 937, left: 1010, title: ['Anterior', 'Hippocampus'], counts: ahcCounts }
];
TABLES.forEach(t => {
    table(t.left, 527, t.counts);
    txt(t.letter, t.lx, 405, 27);
    t.title.forEach((s, i) => txt(s, t.left + 91, 408 + i * 32, TITLE_SIZE));
    txt('LN model', t.left + 91, 474, 22);
    txt(LN_COLS[0], t.left + 45, 506, 22);
    txt(LN_COLS[1], t.left + 137, 506, 22);
    vtxt(TRAD_ROWS[0], t.left - 22, 572, 22);
    vtxt(TRAD_ROWS[1], t.left - 22, 664, 22);
});
vtxt('Traditional', 35, 617, 22);

// ---------- Row 3 ----------
const BEST_VS_EXP = { x: 'NTA (Best model+AP)', y: 'NTA (Exp. curve)' };
panel(95, 755, 210, refLines(true).concat(stacked([
    open(hHdcOpen, HDC), star(hHdcStar, HDC), open(hEbcOpen, EBC), open(hNoneOpen, NONE), open(hLscOpen, LSC),
    filled(hHdcFill, HDC), filled(hEbcFill, EBC), filled(hAscFill, ASC), filled(hApcFill, APC), star(hApcStar, APC)
])), BEST_VS_EXP);

panel(398, 755, 210, refLines(true).concat(stacked([
    open(iNoneOpen, NONE), open(iEbcOpen, EBC), open(iHdcOpen, HDC), open(iAscOpen, ASC), filled(iEbcFill, EBC)
])), BEST_VS_EXP);

panel(700, 755, 210, refLines(true).concat(stacked([
    open(jNoneOpen, NONE), open(jHdcOpen, HDC), open(jEbcOpen, EBC), open(jLscOpen, LSC),
    filled(jHdcFill, HDC), filled(jEbcFill, EBC), filled(jApcFill, APC), star(jApcStar, APC)
])), { x: BEST_VS_EXP.x, y: BEST_VS_EXP.y, yDist: 57 });

panel(1003, 755, 210, refLines(true).concat(stacked([
    open(kNoneOpen, NONE), open(kHdcOpen, HDC), open(kAscOpen, ASC), open(kEbcOpen, EBC), open(kLscOpen, LSC),
    filled(kEbcFill, EBC), filled(kApcFill, APC), star(kApcStar, APC)
])), BEST_VS_EXP);

txt('H', 31, 738, 27); txt('I', 333, 738, 27); txt('J', 635, 738, 27); txt('K', 937, 738, 27);

// ---------- Legend ----------
const LEGEND = [
    { name: 'APC', color: APC, x: 78, filled: true },
    { name: 'EBC', color: EBC, x: 252, filled: true },
    { name: 'HDC', color: HDC, x: 425, filled: true },
    { name: 'LSC', color: LSC, x: 600, filled: true },
    { name: 'ASC', color: ASC, x: 775, filled: true },
    { name: 'No spatial mod.', color: '#8e8e8e', x: 963, filled: false }
];
function sym(x, y, d, color, ring) {
    const s = document.createElement('div');
    s.className = 'sym';
    s.style.left = (x - d / 2) + 'px';
    s.style.top = (y - d / 2) + 'px';
    s.style.width = s.style.height = d + 'px';
    if (ring) s.style.border = '1.2px solid ' + color;
    else s.style.background = color;
    document.body.appendChild(s);
}
const LY = 1067;
LEGEND.forEach(it => {
    sym(it.x, LY, 4, it.color, false);
    let nx = it.x + 21;
    if (it.filled) { sym(nx, LY, 9, it.color, false); nx += 19; }
    sym(nx, LY, 8, it.color, true);
    txt(it.name, nx + 13, LY, 27, { align: 'left', color: it.color });
});
</script>
</body>
</html>
